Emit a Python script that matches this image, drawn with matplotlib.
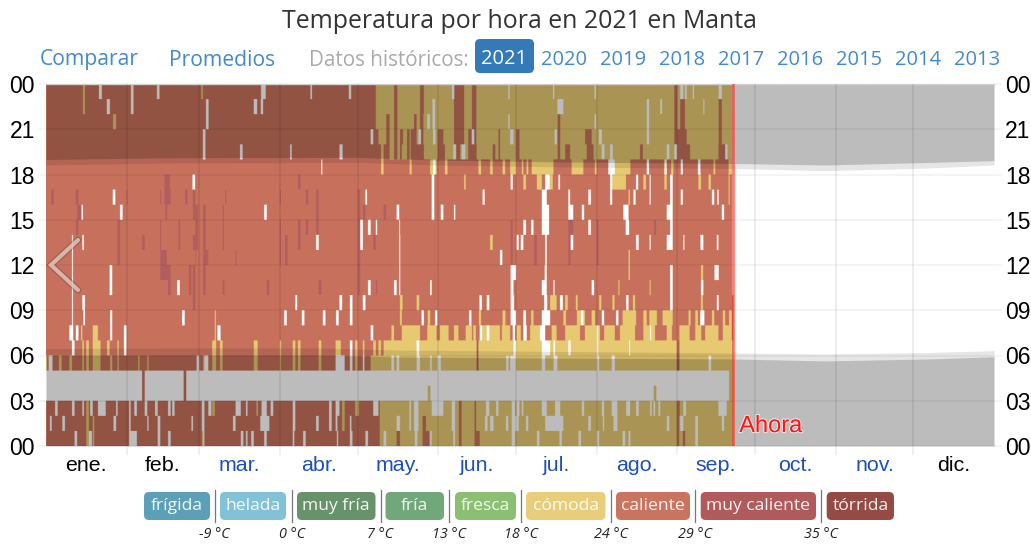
import numpy as np
import matplotlib
matplotlib.use("Agg")
import matplotlib.pyplot as plt
from matplotlib.patches import FancyBboxPatch
import matplotlib.patheffects as pe

# ---------- labels ----------
meses = ["ene.", "feb.", "mar.", "abr.", "may.", "jun.", "jul.", "ago.", "sep.", "oct.", "nov.", "dic."]
dias_mes = [31, 28, 31, 30, 31, 30, 31, 31, 30, 31, 30, 31]
horas = ["00", "03", "06", "09", "12", "15", "18", "21", "00"]
anios = ["2020", "2019", "2018", "2017", "2016", "2015", "2014", "2013"]
bandas = ["frígida", "helada", "muy fría", "fría", "fresca", "cómoda", "caliente", "muy caliente", "tórrida"]
bandas_color = ["#5BA0B7", "#82C2D6", "#67936A", "#70A879", "#8BBF72", "#E8CE7A", "#C9745E", "#B15A5C", "#964A44"]
limites = ["-9 °C", "0 °C", "7 °C", "13 °C", "18 °C", "24 °C", "29 °C", "35 °C"]

# ---------- day of year when the hourly base turns from "caliente" to "cómoda" ----------
cambio_base = {0: 128.5, 1: 128.5, 2: 128.5, 3: 128.5, 4: 128.5, 5: 125, 6: 130,
               19: 127, 20: 127, 21: 127, 22: 127, 23: 127}
ultimo_dia_bajo = 264.7   # hours 0-9
ultimo_dia_alto = 264.2   # hours 10-23
dia_ahora = 264.6

# ---------- missing observations: hour -> (from day, to day) ----------
falta = {
 23: [(20.4,21.5),(32.7,33.7),(42.7,43.7),(82.8,84.6),(101.8,102.4),(116.6,117.5),(156.3,157.2),(178,178.5),(195.2,195.7),(211.2,211.8),(244.2,245.4),(246,246.7),(249,249.5),(259,260.2)],
 22: [(23.4,24.6),(32.7,33.7),(61.6,62.6),(80,81.3),(82.7,83.6),(148.8,149.8),(196.9,199.2),(231.3,232.2),(236.5,237.2),(253.1,253.5)],
 21: [(61.6,62.6),(146.8,147.8),(148.8,149.8),(178,178.5),(211.2,211.8),(231.3,232.2)],
 20: [(60.4,61.4),(125,126),(143.4,144.4),(149,150),(163.9,164.9),(178.7,180),(195.8,196.7),(212.9,214),(231.3,232.2)],
 19: [(60.4,61.4),(74.7,75.7),(94,94.6),(113,114.2),(156.8,157.8),(160,161.5),(214,215),(217.2,218.2),(239,240),(241.9,243),(261.5,262.4)],
 18: [(106,106.4),(149,150),(216.5,219),(231.3,232.2),(238.2,239),(244.4,245.2),(251,252)],
 17: [(56.4,57.4),(148.5,149.5),(178.9,179.7),(192.2,194),(197.3,197.9),(217.2,218),(227.2,228),(232.4,232.8),(240.3,241.3)],
 16: [(25.7,26.7),(123,123.6),(148.5,149.5),(168.1,168.9),(190.9,192.8),(201.1,201.8),(208.8,209.8),(217.2,218),(226.2,227),(232.4,232.8),(240.3,241.3),(244.4,245.2),(256.4,257.3),(258.5,259)],
 15: [(13.7,14.2),(28.5,29.5),(84,85),(135,136),(148.5,149.5),(152,153),(157.1,157.6),(190.9,193.7),(201.1,203),(206.3,207.2),(222.3,224.3),(239,241.3),(260.2,261.1)],
 14: [(121,122),(124,125),(127,127.5),(136,136.3),(183.8,184.8),(186.8,187.7),(190.9,193.7),(208.8,209.8),(223.2,224.5),(240.3,241.3)],
 13: [(10,10.4),(14,14.6),(104,105),(121,122),(136,136.4),(181.2,182),(182.8,183.8),(192.2,192.8),(202,203),(227.2,228.2),(232.4,232.8),(239,241.3),(245.4,245.8),(252,253.1),(258.3,258.9)],
 12: [(10,10.4),(136,136.4),(174.8,175.7),(192.2,192.8)],
 11: [(10,10.4),(24.5,25.5),(136,136.4),(178.9,181),(192,192.8),(240.3,241.3),(257.4,259)],
 10: [(10,10.4),(24.5,25.5),(50.5,51.5),(124,125),(134,135),(136,136.4),(147.9,148.5),(178.9,180),(190.9,192.8),(195.4,195.8),(210.1,211),(240.3,241.3),(252.2,253.1)],
 9: [(10,10.4),(14,15),(96,96.7),(113,114),(117,118),(122,123),(166.9,167.8),(169.7,170.7),(178.9,180.2),(191.8,193),(197.9,199),(223.4,224.3),(240.3,241.3),(258.3,259)],
 8: [(10,10.4),(14.4,15),(24.7,25.5),(52.4,53.4),(91.7,92.7),(98.5,99.5),(106.6,107.6),(111.7,112.7),(117,118),(144.6,145.5),(149.8,150.7),(162.9,163.8),(178.9,181),(183.8,184.8),(190.9,194.1),(206,206.9),(214,214.9),(219.5,220.4),(251.9,253.5)],
 7: [(9,10.5),(11.5,12.5),(24.7,25.5),(30,31),(66,67.2),(125,126),(167.1,167.9),(169.7,170.7),(179.7,180.6),(183.8,185.1),(190.2,192.2),(212,212.6),(232.6,233)],
 6: [(10,11),(30,31),(117,118),(142.7,143.7),(180,181),(190.9,194.1),(195.4,196),(201.1,202),(212,212.6),(224.5,224.9)],
 5: [(1,2.5),(58,59),(61,62.5),(111.5,115),(117,118),(122,122.6),(133,134),(135,136),(142.7,144),(147.9,148.5),(150.7,152),(177.2,178.1),(178.7,181),(190.9,192.2),(195.4,196.9),(212,213),(217.8,219),(255.1,256.1)],
 4: [(0,37),(38,53),(54,263)],
 3: [(0,37),(38,53),(54,147),(148,234),(235,263)],
 2: [(3.5,4.5),(10,11),(14,14.6),(17,18),(20,23),(27,27.6),(32,32.6),(34,35),(38,39),(42,43),(47,48),(48.6,49.5),(60,61),(62.5,63.7),(73,75),(77,77.6),(83,85),(86.5,87.5),(95,96),(109,110),(111.5,113),(126,128),(139.9,140.5),(141.7,143.4),(148.5,153),(156.2,157.5),(169.4,170.7),(173.3,174.2),(179.3,180.6),(181.2,182.3),(183.2,183.8),(190.9,192.8),(196,198),(206.3,207.2),(214,214.9),(217.8,220),(223.4,224.9),(227.2,228.2),(232.6,233.2),(233.9,234.5),(235.8,236.5),(245.4,246.4),(258.9,262.1)],
 1: [(1.5,2.2),(6.3,7.3),(26,27),(32,32.6),(39,39.5),(43,44),(56,56.6),(60,61),(72,73),(82.5,86),(95,96),(104,105),(109,110),(111.5,112.2),(117,117.6),(135,136.3),(139.9,140.5),(141.7,143.4),(156.2,157.5),(169,170),(171,172.3),(177.1,178),(179.3,182),(184.8,185.7),(192.2,199.2),(208.8,209.8),(214.4,214.9),(218.5,220),(239,240),(244.2,245.4),(250,251),(260.2,261.1)],
 0: [(11,12),(16.5,17.7),(32,35),(43,44),(47,48),(60.5,61),(75,76),(77,77.6),(79,80),(84,85),(95,95.6),(99,100),(112,112.5),(117,118),(123,124),(130,131),(142,143),(147.9,148.5),(156.8,157.5),(179.3,180.6),(189,190),(197.7,198.6),(205,206),(212,213),(222,223),(224.3,225),(250,251)],
}

# ---------- "cómoda" hours ----------
comoda = {
 23: [(14.2,15),(59.8,60.4)],
 22: [(14.2,15)],
 21: [(25.8,27)],
 18: [(129,130),(140,140.8),(147.9,150.4),(153.6,154.6),(166.5,167.5),(171,172),(175.8,176.8),(178.7,181),(183.2,183.8),(185,185.7),(187,195.4),(202.4,206.9),(211.3,212),(219,225),(238,239),(240.7,241.6),(257,257.7),(262.8,264.1)],
 17: [(161,161.6),(183.8,184.8),(189,190.9),(194.1,195.1),(218,223.3),(230,231),(238.1,239),(251.2,252.2),(255.1,256),(262.8,263.2)],
 16: [(224.3,224.8),(262.8,263.2)],
 13: [(171,172)],
 12: [(224.3,224.8)],
 11: [(224.3,224.8),(252.2,253)],
 10: [(220.4,220.8),(232.4,232.8)],
 9: [(136.3,137.3),(142.7,143.7),(194.1,196.6),(199.9,200.9),(204,204.7),(213,213.8),(218.1,218.9),(226,226.8),(252.2,252.9)],
 8: [(65,65.4),(136.3,137),(147,147.9),(166.7,167.5),(175.8,176.9),(186.8,187.7),(199.2,200.2),(204.4,207.5),(210.1,211.4),(222,227.2),(230,231.3),(232.3,235.2),(237.4,241.3),(247.4,248.2),(250,251),(256.4,257.3),(260.6,261.5),(263,264)],
 7: [(13.5,14),(18,20),(65,65.4),(133,134),(137,144),(146.8,150.4),(151.7,155),(157.1,158.8),(161.6,164),(164.5,165.5),(166.9,170),(170.3,174.8),(175.5,178.7),(181.2,182.8),(186.4,190.9),(194.7,196.6),(199.9,205.6),(207.5,213.3),(214.9,219),(221,226.8),(230,234.5),(239,241),(243.9,247.8),(250,252.3),(253.8,258.9),(260.6,264)],
 6: [(14,14.6),(15.5,16.5),(18,21),(23.5,24.5),(27.5,28),(64,65.5),(67,68),(80,81.5),(90,90.5),(95,96),(97,98),(105,106),(111.5,113.5),(119,120),(122,122.6),(126,127),(128,129)],
 5: [(0,0.5),(5,6),(9,10),(14,14.6),(15.5,16.5),(18,21),(24.7,25.5),(27.5,28),(35.5,36),(39,39.5),(60.5,61),(64,65.5),(67,68),(80,81.5),(90,90.5),(95,96),(97,98),(105,106),(119,120)],
 2: [(15.5,16.5),(64,65),(81,81.6),(114,115),(119,120.5)],
 1: [(15.5,16.5),(18,18.6),(114,115)],
 0: [(15.5,16.5),(18,18.6),(60,61)],
}

# ---------- "caliente" hours inside the cómoda season ----------
caliente = {
 23: [(134,135.3),(144,145.5),(157.1,161),(164,165.7),(241.9,243.1)],
 22: [(134,135.3),(144,145.5),(157.1,161),(164,165.7),(241.9,243.1),(244.2,246),(259,260.2)],
 21: [(131,132.3),(134,135.3),(141.7,142.7),(144,145.3),(157.1,161),(164,165.7),(197,198),(241.9,243.1),(244.2,246),(259,260.2)],
 20: [(127,128),(131,132.3),(134,135.3),(136.3,137.5),(139,140),(140.4,142.7),(144.2,145.3),(150.8,153),(157.1,161),(162.6,163.9),(164.9,165.7),(174.2,174.8),(181,182.3),(197,198),(207.6,210.1),(241.9,246.7),(259,260.2)],
 19: [(127,129),(130,132.3),(134,135.3),(136.3,137),(139,140),(140.4,145.5),(150.8,153.6),(158,159.5),(162.6,165.8),(172,173),(174.2,174.8),(181,182.3),(197,198),(199.9,201.8),(208.2,210.8),(228.7,229.8),(243,248),(258.9,261.5)],
 2: [(159,160),(165,165.6),(242.9,244)],
 1: [(145,146.3),(159,160),(165,165.6),(242.9,243.8)],
 0: [(135,136.3),(145,147.6),(159,160),(165,167),(242.9,243.8),(245.2,246.1)],
}

# ---------- "muy caliente" hours ----------
muy_caliente = {
 17: [(45.6,47.8),(97,98)],
 16: [(2,3),(11.4,12.5),(31,31.4),(44,44.4),(45.6,48),(53.5,54.5),(56.5,57.5),(69,69.4),(90,90.5),(100,101),(104,105),(120,121)],
 15: [(12,13.5),(46,46.7),(56.5,58.5),(60.5,61.5),(68,68.5),(104,105),(120,121),(122,123),(130,131)],
 14: [(11.5,12.5),(27.5,28.5),(44,44.4),(51,51.7),(57.5,58.5),(60.5,61.5),(68,68.5),(90,90.5),(97,98),(100,101),(104,105),(120,121),(178.9,179.7),(201.1,203),(212,212.8),(234.1,234.9)],
 13: [(27.5,28.5),(37,38),(44,44.4),(51,51.7),(56.5,58.5),(60.5,61.5),(68,68.5),(90,90.5),(92,93),(97,98),(120,121),(126,127),(178.9,179.7),(188,189),(201.1,202),(212,212.8)],
 12: [(27.5,28.5),(44,46.5),(57.5,57.8),(60.5,62.5),(73,73.4),(90,90.5),(92,93),(120,121),(178.9,179.7),(188,189),(201.1,202),(212,212.8)],
 11: [(44,48),(55,56),(56.5,57.5),(60.5,61.5),(120,121)],
 10: [(47,48),(55,56),(56.5,57.5),(60.5,61.5),(68,68.7),(85,86),(105,106),(120,121),(127,127.5)],
 9: [(56.5,57.5)],
 6: [(165.8,166.5),(242.9,243.9)],
 5: [(165.8,166.5),(242.9,243.9)],
}

# ---------- twilight limits (hours) read at these days ----------
dias_ocaso = [0, 46, 120, 150, 200, 265, 300, 340, 365]
ocaso_noche = [18.99, 19.11, 19.14, 18.96, 18.83, 18.73, 18.63, 18.80, 18.92]
ocaso_civil = [18.63, 18.76, 18.80, 18.63, 18.50, 18.40, 18.25, 18.43, 18.63]
dias_alba = [0, 46, 105, 136, 196, 265, 300, 340, 365]
alba_civil = [6.46, 6.50, 6.50, 6.36, 6.27, 6.17, 6.10, 6.20, 6.32]
alba_noche = [6.00, 6.03, 6.03, 5.90, 5.83, 5.77, 5.64, 5.77, 5.92]

# ---------- layout helpers ----------
W, H = 1031, 546
L, R_, T, B = 46, 994, 84, 446
plt.rcParams["font.family"] = ["Liberation Sans", "DejaVu Sans"]
fig = plt.figure(figsize=(W / 100, H / 100), dpi=100, facecolor="white")
ax = fig.add_axes([L / W, 1 - B / H, (R_ - L) / W, (B - T) / H])
ax.set_facecolor("white")

# ---------- category matrix ----------
RES = 10
COL = {"v": (1, 1, 1), "c": (0.784, 0.447, 0.361), "o": (0.902, 0.792, 0.447), "m": (0.70, 0.37, 0.37)}
n = 365 * RES
img = np.ones((24, n, 3))
def paint(h, a, b, rgb):
    img[h, int(round(a * RES)):int(round(b * RES))] = rgb
for h in range(24):
    fin = ultimo_dia_bajo if h < 10 else ultimo_dia_alto
    c = cambio_base.get(h, 999)
    paint(h, 0, min(c, fin), COL["c"])
    if c < fin:
        paint(h, c, fin, COL["o"])
    for a, b in comoda.get(h, []):
        paint(h, a, b, COL["o"])
    for a, b in caliente.get(h, []):
        paint(h, a, b, COL["c"])
    for a, b in muy_caliente.get(h, []):
        paint(h, a, b, COL["m"])
    for a, b in falta.get(h, []):
        paint(h, a, b, COL["v"])
img_big = np.repeat(img, 20, axis=0)
ax.imshow(img_big, origin="lower", extent=(0, 365, 0, 24), aspect="auto",
          interpolation="hanning", interpolation_stage="rgba", zorder=1)

# ---------- night overlays ----------
ax.fill_between(dias_ocaso, ocaso_civil, 24, color="black", alpha=0.10, lw=0, zorder=2)
ax.fill_between(dias_ocaso, ocaso_noche, 24, color="black", alpha=0.175, lw=0, zorder=2)
ax.fill_between(dias_alba, 0, alba_civil, color="black", alpha=0.10, lw=0, zorder=2)
ax.fill_between(dias_alba, 0, alba_noche, color="black", alpha=0.175, lw=0, zorder=2)

# ---------- grid ----------
bordes = np.cumsum([0] + dias_mes)
medios = (bordes[:-1] + bordes[1:]) / 2
ax.set_xlim(0, 365)
ax.set_ylim(0, 24)
ax.set_xticks(bordes[1:-1])
ax.set_xticklabels([])
ax.set_xticks(medios, minor=True)
ax.set_xticklabels(meses, minor=True, fontsize=15.4)
ax.tick_params(axis="x", which="minor", length=0, pad=7.5)
ax.tick_params(axis="x", which="major", length=6.5, width=1.4, color=(0, 0, 0, 0.06))
for lab, m in zip(ax.xaxis.get_ticklabels(minor=True), meses):
    lab.set_color("black" if m in ("ene.", "feb.", "dic.") else "#1D50B8")
ax.set_yticks(range(0, 25, 3))
ax.set_yticklabels(horas, fontsize=16.5)
ax.tick_params(axis="y", length=5.5, width=1.4, color=(0, 0, 0, 0.04), left=True, right=True,
               labelleft=True, labelright=True, pad=2.5)
ax.grid(axis="x", which="major", color="black", alpha=0.07, lw=1.4, zorder=3)
ax.grid(axis="y", which="major", color="black", alpha=0.045, lw=1.4, zorder=3)
ax.set_axisbelow(False)
for s in ax.spines.values():
    s.set_visible(False)
ax.spines["top"].set_visible(True)
ax.spines["top"].set_color("#D9D9D9")
ax.spines["top"].set_linewidth(1)

# ---------- now line ----------
ax.axvline(dia_ahora, color="#FF2A20", alpha=0.62, lw=1.95, zorder=4)
ax.text(dia_ahora + 2.3, 1.32, "Ahora", color="#FF1414", fontsize=17, va="center", ha="left", zorder=5,
        path_effects=[pe.withStroke(linewidth=1.5, foreground=(1, 1, 1, 0.7))])

# ---------- overlay in pixel coordinates ----------
ov = fig.add_axes([0, 0, 1, 1], facecolor="none")
ov.set_xlim(0, W)
ov.set_ylim(H, 0)
ov.axis("off")
UI = ["Open Sans", "DejaVu Sans"]
ov.text(519.5, 21, "Temperatura por hora en 2021 en Manta", family=UI, fontsize=17.95, color="#333333", ha="center", va="center")
LINK = "#428BCA"
ov.text(89, 60, "Comparar", family=UI, fontsize=15.2, color=LINK, ha="center", va="center")
ov.text(222.5, 60, "Promedios", family=UI, fontsize=15.2, color=LINK, ha="center", va="center")
ov.text(388.5, 60, "Datos históricos:", family=UI, fontsize=14.9, color="#AAAAAA", ha="center", va="center")
ov.add_patch(FancyBboxPatch((475, 39), 59, 34, boxstyle="round,pad=0,rounding_size=5", fc="#337AB7", ec="none"))
ov.text(504.5, 59, "2021", family=UI, fontsize=14.5, color="white", ha="center", va="center")
for t, xc in zip(anios, [564, 623, 682, 741, 800, 859, 918, 977]):
    ov.text(xc, 60, t, family=UI, fontsize=14.5, color=LINK, ha="center", va="center")

# chevron
ov.plot([78, 51, 78], [240, 265, 290], color=(0.90, 0.80, 0.76), alpha=0.8, lw=3.0,
        solid_capstyle="round", solid_joinstyle="miter",
        path_effects=[pe.Stroke(linewidth=4.8, foreground=(0.35, 0.25, 0.22, 0.35)), pe.Normal()])

# legend
cajas = [(144, 210), (220, 286), (297, 375.5), (385.5, 444), (455, 516), (526, 605.5), (616, 690), (700.7, 816), (826.7, 894)]
divs = [214.7, 291.8, 380.5, 449, 521, 610.6, 695, 821]
for nombre, col, (a, b) in zip(bandas, bandas_color, cajas):
    ov.add_patch(FancyBboxPatch((a, 492), b - a, 28, boxstyle="round,pad=0,rounding_size=5", fc=col, ec="none"))
    ov.text((a + b) / 2, 506.5, nombre, family=UI, fontsize=12.6, color=(1, 1, 1, 0.92), ha="center", va="center")
for x, t in zip(divs, limites):
    ov.plot([x, x], [490, 522], color="#777777", lw=0.9)
    ov.text(x, 534, t, family=UI, fontsize=10.4, style="italic", color="#222222", ha="center", va="center")

fig.savefig("out.png", dpi=100, facecolor="white")
